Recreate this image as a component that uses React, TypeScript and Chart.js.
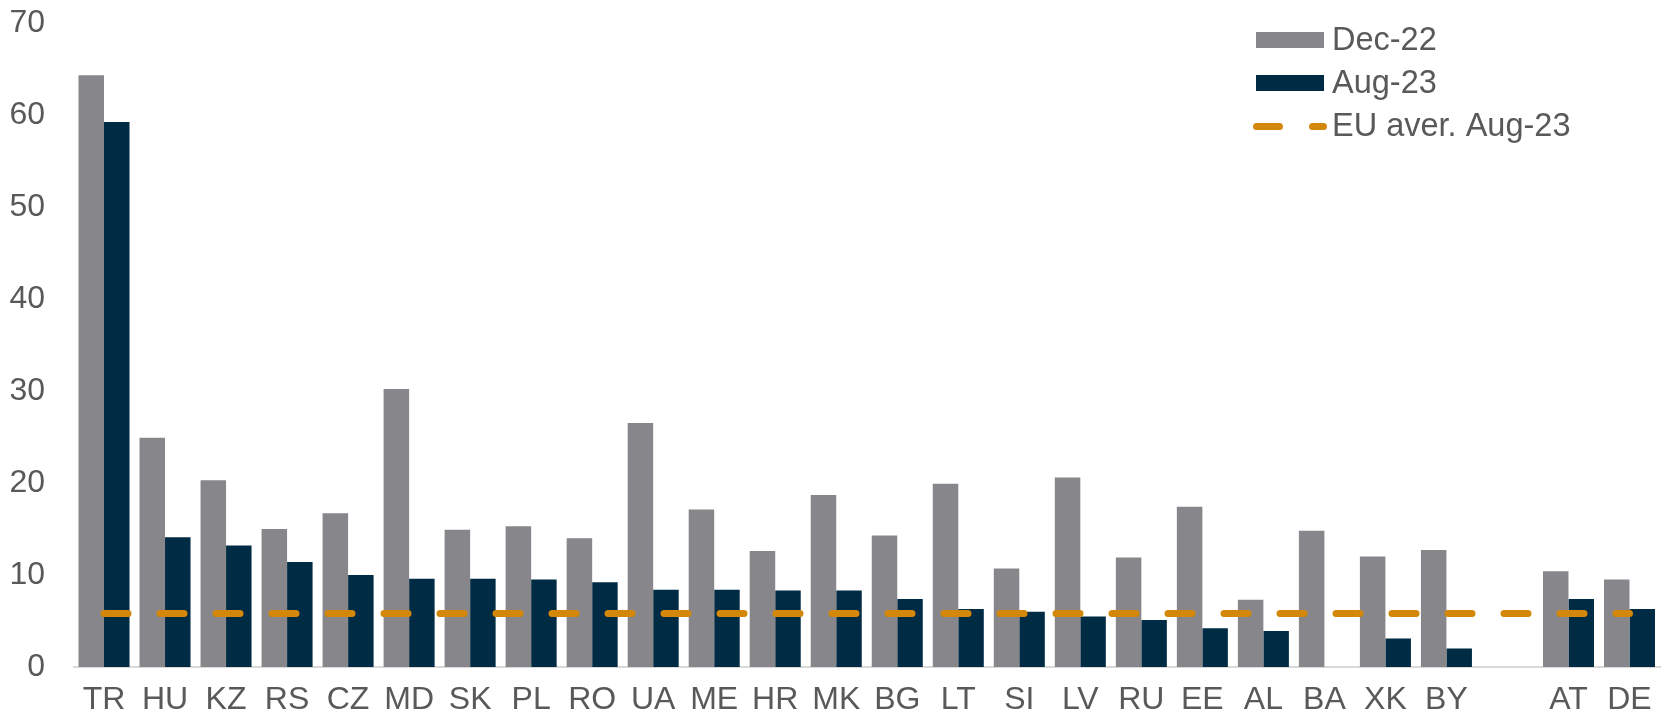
import React, { useEffect, useRef } from "react";
import { Chart, registerables } from "chart.js";

Chart.register(...registerables);

// Country codes along the x axis (empty slot separates the euro-area comparators)
const countries = [
  "TR", "HU", "KZ", "RS", "CZ", "MD", "SK", "PL", "RO", "UA", "ME", "HR", "MK",
  "BG", "LT", "SI", "LV", "RU", "EE", "AL", "BA", "XK", "BY", "", "AT", "DE",
];

// Inflation, % y/y
const dec22: (number | null)[] = [
  64.3, 24.9, 20.3, 15.0, 16.7, 30.2, 14.9, 15.3, 14.0, 26.5, 17.1, 12.6, 18.7,
  14.3, 19.9, 10.7, 20.6, 11.9, 17.4, 7.3, 14.8, 12.0, 12.7, null, 10.4, 9.5,
];
const aug23: (number | null)[] = [
  59.2, 14.1, 13.2, 11.4, 10.0, 9.6, 9.6, 9.5, 9.2, 8.4, 8.4, 8.3, 8.3,
  7.4, 6.3, 6.0, 5.5, 5.1, 4.2, 3.9, null, 3.1, 2.0, null, 7.4, 6.3,
];
const euAverageAug23 = 5.8;

const yTicks = [0, 10, 20, 30, 40, 50, 60, 70];

const GREY = "#87868a";
const NAVY = "#002b44";
const ORANGE = "#d4880b";
const TEXT = "#595959";
const FONT = "'Liberation Sans', Arial, sans-serif";

// Legend stacked in the top-right corner of the plot
const legendPlugin = {
  id: "cornerLegend",
  afterDraw(chart: any) {
    const ctx = chart.ctx;
    const x0 = 1256;
    const rows = [40, 83, 126.5];
    ctx.save();
    chart.data.datasets.forEach((ds: any, i: number) => {
      const y = rows[i];
      if (ds.type === "line") {
        ctx.strokeStyle = ds.borderColor;
        ctx.lineWidth = 7;
        ctx.lineCap = "round";
        ctx.setLineDash([23, 33]);
        ctx.beginPath();
        ctx.moveTo(x0 + 0.5, y);
        ctx.lineTo(x0 + 67.5, y);
        ctx.stroke();
        ctx.setLineDash([]);
      } else {
        ctx.fillStyle = ds.backgroundColor;
        ctx.fillRect(x0, y - 8, 68, 16);
      }
      ctx.fillStyle = TEXT;
      ctx.font = `32.5px ${FONT}`;
      ctx.textBaseline = "middle";
      ctx.textAlign = "left";
      ctx.fillText(ds.label, x0 + 76, y + 1);
    });
    ctx.restore();
  },
};

export default function App() {
  const canvasRef = useRef<HTMLCanvasElement | null>(null);

  useEffect(() => {
    document.body.style.margin = "0";
    const canvas = canvasRef.current;
    if (!canvas) return;

    const chart = new Chart(canvas, {
      type: "bar",
      data: {
        labels: countries,
        datasets: [
          {
            type: "bar",
            label: "Dec-22",
            data: dec22,
            backgroundColor: GREY,
            categoryPercentage: 0.836,
            barPercentage: 1,
            order: 1,
          },
          {
            type: "bar",
            label: "Aug-23",
            data: aug23,
            backgroundColor: NAVY,
            categoryPercentage: 0.836,
            barPercentage: 1,
            order: 1,
          },
          {
            type: "line",
            label: "EU aver. Aug-23",
            data: countries.map(() => euAverageAug23),
            borderColor: ORANGE,
            backgroundColor: ORANGE,
            borderWidth: 7,
            borderDash: [24, 32],
            borderCapStyle: "round",
            pointRadius: 0,
            fill: false,
            order: 0,
          } as any,
        ],
      },
      options: {
        animation: false,
        responsive: true,
        maintainAspectRatio: false,
        layout: { autoPadding: false, padding: { top: 22.7, right: 4, bottom: 0, left: 0 } },
        plugins: {
          legend: { display: false },
          tooltip: { enabled: false },
        },
        scales: {
          x: {
            grid: { display: false, drawTicks: false },
            border: { display: true, color: "#d9d9d9", width: 2 },
            ticks: {
              color: TEXT,
              font: { family: FONT, size: 32 },
              padding: 14,
              maxRotation: 0,
              autoSkip: false,
            },
            afterFit: (scale: any) => {
              scale.height = 54;
              scale.paddingLeft = 0;
              scale.paddingRight = 0;
            },
          },
          y: {
            min: 0,
            max: 70,
            afterBuildTicks: (scale: any) => {
              scale.ticks = yTicks.map((v) => ({ value: v }));
            },
            grid: { display: false, drawTicks: false },
            border: { display: false },
            ticks: {
              color: TEXT,
              font: { family: FONT, size: 32 },
              padding: 28.5,
            },
            afterFit: (scale: any) => {
              scale.width = 73.5;
              scale.paddingTop = 0;
              scale.paddingBottom = 0;
            },
          },
        },
      },
      plugins: [legendPlugin],
    });

    return () => chart.destroy();
  }, []);

  return (
    <div style={{ position: "relative", width: 1664, height: 721 }}>
      <canvas ref={canvasRef} />
    </div>
  );
}
